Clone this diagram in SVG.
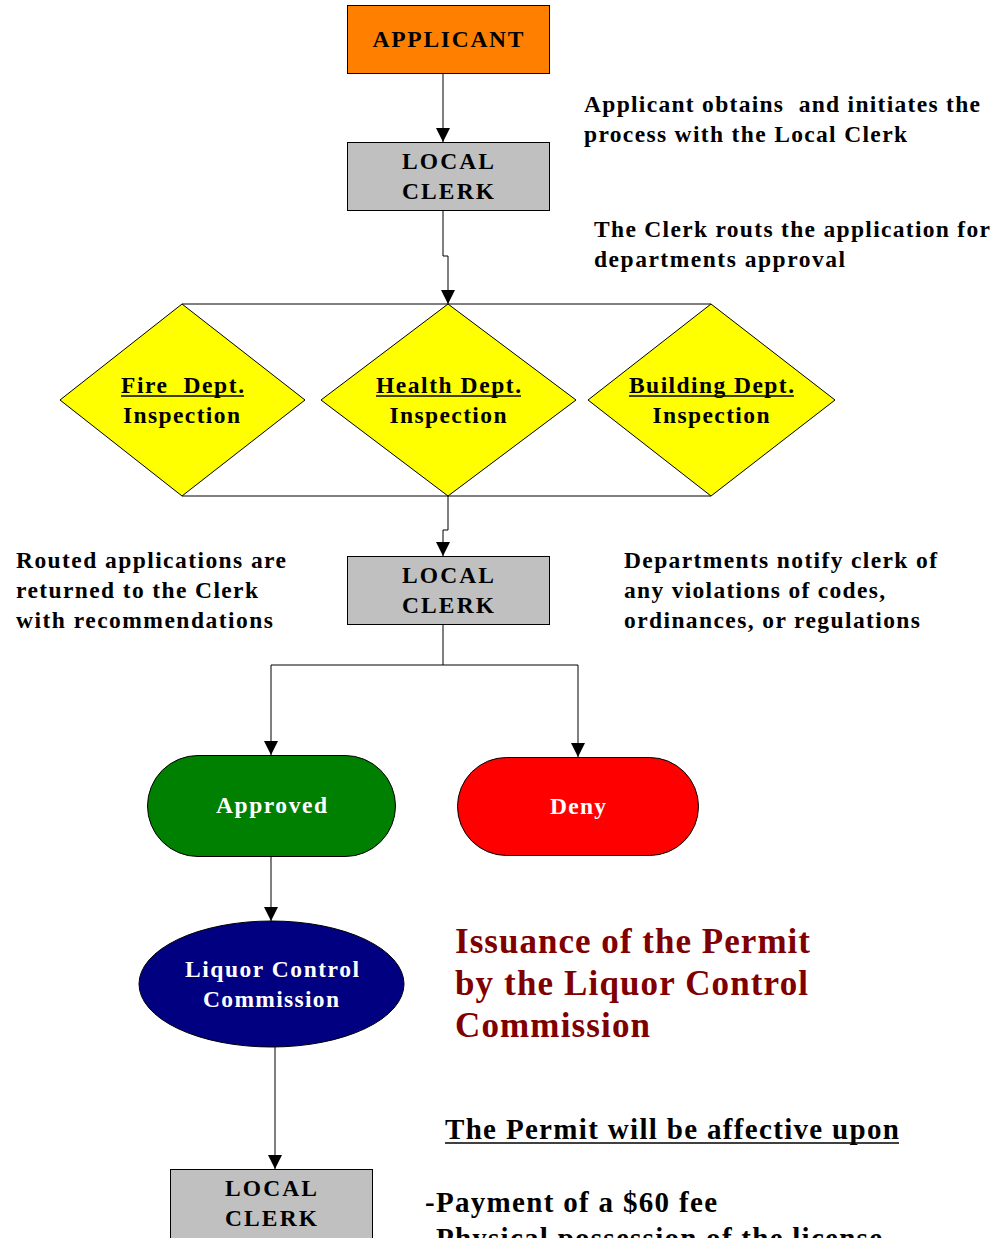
<svg xmlns="http://www.w3.org/2000/svg" width="994" height="1238" viewBox="0 0 994 1238">
<style>
text{font-family:"Liberation Serif","Times New Roman",serif;font-weight:bold;}
.nt{font-size:23.5px;text-anchor:middle;fill:#000;}
.wt{font-size:23.5px;text-anchor:middle;fill:#fff;}
.an{font-size:23.5px;fill:#000;}
.big{font-size:35px;fill:#800000;}
.perm{font-size:29px;fill:#000;}
.sh{stroke:#000;stroke-width:1;}
.ln{fill:none;stroke:#000;stroke-width:1;}
.ul{stroke:#000;stroke-width:1.5;}
</style>
<defs>
<marker id="arr" markerWidth="14" markerHeight="16" refX="14" refY="7" orient="auto" markerUnits="userSpaceOnUse">
<path d="M0,0 L14,7 L0,14 Z" fill="#000"/>
</marker>
</defs>

<g id="connectors">
<path class="ln" d="M443,73 V142" marker-end="url(#arr)"/>
<path class="ln" d="M443,210 V256 H448 V304" marker-end="url(#arr)"/>
<path class="ln" d="M182,304 H711"/>
<path class="ln" d="M182,496 H711"/>
<path class="ln" d="M448,496 V530 H443 V556" marker-end="url(#arr)"/>
<path class="ln" d="M443,624 V665"/>
<path class="ln" d="M271,665 H578"/>
<path class="ln" d="M271,665 V755" marker-end="url(#arr)"/>
<path class="ln" d="M578,665 V757" marker-end="url(#arr)"/>
<path class="ln" d="M271,856 V921" marker-end="url(#arr)"/>
<path class="ln" d="M275,1047 V1169" marker-end="url(#arr)"/>
</g>

<g id="applicant">
<rect class="sh" x="347.5" y="5.5" width="202" height="68" fill="#FF8000"/>
<text class="nt" x="448" y="47" textLength="151" lengthAdjust="spacing">APPLICANT</text>
</g>

<g id="clerk1">
<rect class="sh" x="347.5" y="142.5" width="202" height="68" fill="#C0C0C0"/>
<text class="nt" x="448" y="169" textLength="92" lengthAdjust="spacing">LOCAL</text>
<text class="nt" x="448" y="199" textLength="92" lengthAdjust="spacing">CLERK</text>
</g>

<g id="fire">
<polygon class="sh" points="182,304 305,400 182,496 60,400" fill="#FFFF00"/>
<text class="nt" x="182.5" y="393" textLength="123" lengthAdjust="spacing" xml:space="preserve">Fire  Dept.</text>
<line class="ul" x1="121" y1="396" x2="244" y2="396"/>
<text class="nt" x="181.5" y="423" textLength="117" lengthAdjust="spacing">Inspection</text>
</g>

<g id="health">
<polygon class="sh" points="448,304 576,400 448,496 321,400" fill="#FFFF00"/>
<text class="nt" x="448.5" y="393" textLength="145" lengthAdjust="spacing">Health Dept.</text>
<line class="ul" x1="376" y1="396" x2="521" y2="396"/>
<text class="nt" x="448" y="423" textLength="117" lengthAdjust="spacing">Inspection</text>
</g>

<g id="building">
<polygon class="sh" points="711,304 835,400 711,496 588,400" fill="#FFFF00"/>
<text class="nt" x="711.5" y="393" textLength="165" lengthAdjust="spacing">Building Dept.</text>
<line class="ul" x1="629" y1="396" x2="794" y2="396"/>
<text class="nt" x="711" y="423" textLength="117" lengthAdjust="spacing">Inspection</text>
</g>

<g id="clerk2">
<rect class="sh" x="347.5" y="556.5" width="202" height="68" fill="#C0C0C0"/>
<text class="nt" x="448" y="583" textLength="92" lengthAdjust="spacing">LOCAL</text>
<text class="nt" x="448" y="613" textLength="92" lengthAdjust="spacing">CLERK</text>
</g>

<g id="approved">
<rect class="sh" x="147.5" y="755.5" width="248" height="101" rx="50.5" ry="50.5" fill="#008000"/>
<text class="wt" x="271.5" y="813" textLength="111" lengthAdjust="spacing">Approved</text>
</g>

<g id="deny">
<rect class="sh" x="457.5" y="757.5" width="241" height="98" rx="49" ry="49" fill="#FF0000"/>
<text class="wt" x="578" y="814" textLength="56" lengthAdjust="spacing">Deny</text>
</g>

<g id="lcc">
<ellipse class="sh" cx="271.5" cy="984" rx="132.5" ry="63" fill="#000080"/>
<text class="wt" x="272" y="977" textLength="174" lengthAdjust="spacing">Liquor Control</text>
<text class="wt" x="271" y="1007" textLength="136" lengthAdjust="spacing">Commission</text>
</g>

<g id="clerk3">
<rect class="sh" x="170.5" y="1169.5" width="202" height="80" fill="#C0C0C0"/>
<text class="nt" x="271" y="1196" textLength="92" lengthAdjust="spacing">LOCAL</text>
<text class="nt" x="271" y="1226" textLength="92" lengthAdjust="spacing">CLERK</text>
</g>

<g id="notes">
<text class="an" x="584" y="112" textLength="396" lengthAdjust="spacing" xml:space="preserve">Applicant obtains  and initiates the</text>
<text class="an" x="584" y="142" textLength="323" lengthAdjust="spacing">process with the Local Clerk</text>
<text class="an" x="594" y="237" textLength="396" lengthAdjust="spacing">The Clerk routs the application for</text>
<text class="an" x="594" y="267" textLength="251" lengthAdjust="spacing">departments approval</text>
<text class="an" x="16" y="568" textLength="270" lengthAdjust="spacing">Routed applications are</text>
<text class="an" x="16" y="598" textLength="242" lengthAdjust="spacing">returned to the Clerk</text>
<text class="an" x="16" y="628" textLength="257" lengthAdjust="spacing">with recommendations</text>
<text class="an" x="624" y="568" textLength="313" lengthAdjust="spacing">Departments notify clerk of</text>
<text class="an" x="624" y="598" textLength="261" lengthAdjust="spacing">any violations of codes,</text>
<text class="an" x="624" y="628" textLength="296" lengthAdjust="spacing">ordinances, or regulations</text>
<text class="big" x="455" y="953" textLength="355" lengthAdjust="spacing">Issuance of the Permit</text>
<text class="big" x="455" y="995" textLength="353" lengthAdjust="spacing">by the Liquor Control</text>
<text class="big" x="455" y="1037" textLength="195" lengthAdjust="spacing">Commission</text>
<text class="perm" x="445" y="1139" textLength="454" lengthAdjust="spacing">The Permit will be affective upon</text>
<line class="ul" x1="445" y1="1143" x2="899" y2="1143" stroke-width="2"/>
<text class="perm" x="425" y="1212" textLength="292" lengthAdjust="spacing">-Payment of a $60 fee</text>
<text class="perm" x="425" y="1248" textLength="457" lengthAdjust="spacing">-Physical possession of the license</text>
</g>
</svg>
